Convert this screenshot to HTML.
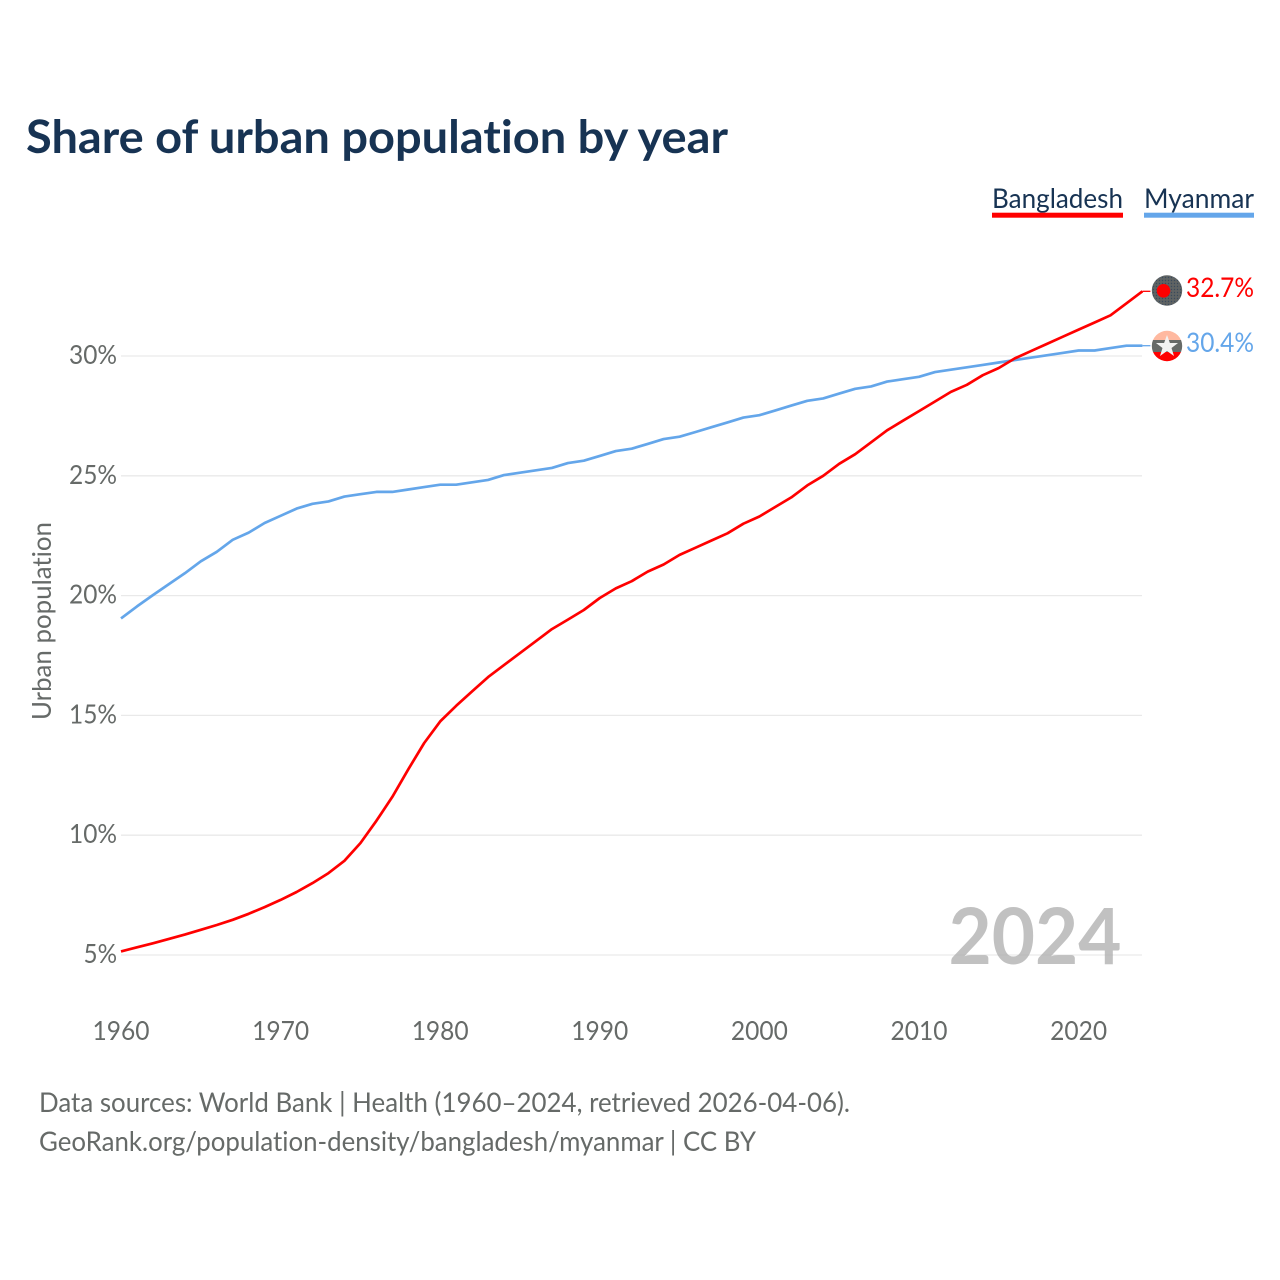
<!DOCTYPE html>
<html lang="en">
<head>
<meta charset="utf-8">
<title>Share of urban population by year</title>
<style>
html,body{margin:0;padding:0;background:#fff;width:1280px;height:1280px;overflow:hidden}
svg{display:block}
text{font-family:"Lato","Carlito","Liberation Sans",sans-serif;font-variant-ligatures:none}
</style>
</head>
<body>
<svg id="chart" width="1280" height="1280" viewBox="0 0 1280 1280" xmlns="http://www.w3.org/2000/svg">
  <defs>
    <clipPath id="flag-clip-bd"><circle cx="1167" cy="290.5" r="15.2"/></clipPath>
    <clipPath id="flag-clip-mm"><circle cx="1167" cy="346" r="15.2"/></clipPath>
    <pattern id="dots" width="3" height="3" patternUnits="userSpaceOnUse"><rect width="3" height="3" fill="#5f6363"/><circle cx="1.5" cy="1.5" r="0.7" fill="#3a4a5c"/></pattern>
  </defs>
  <rect width="1280" height="1280" fill="#fff"/>
  <text x="26" y="153" font-size="46" font-weight="700" fill="#173353" textLength="702" lengthAdjust="spacingAndGlyphs">Share of urban population by year</text>

  <g>
    <g>
      <text x="992" y="208" font-size="27" fill="#173353" textLength="131" lengthAdjust="spacingAndGlyphs">Bangladesh</text>
      <rect x="992" y="212.7" width="131" height="5" fill="#ff0000"/>
    </g>
    <g>
      <text x="1144" y="208" font-size="27" fill="#173353" textLength="110" lengthAdjust="spacingAndGlyphs">Myanmar</text>
      <rect x="1144" y="212.7" width="110" height="5" fill="#64a6ea"/>
    </g>
  </g>

  <g id="grid"></g>
  <g id="yticks"></g>
  <g id="xticks"></g>
  <text transform="translate(51,621) rotate(-90)" text-anchor="middle" font-size="26" fill="#666a68" textLength="198" lengthAdjust="spacingAndGlyphs">Urban population</text>
  <text x="1121.5" y="964" text-anchor="end" font-size="78" font-weight="700" fill="#a6a6a6" fill-opacity="0.7" textLength="173" lengthAdjust="spacingAndGlyphs">2024</text>
  <g id="series"></g>

  <g clip-path="url(#flag-clip-bd)">
    <rect x="1150" y="273" width="34" height="35" fill="url(#dots)"/>
    <circle cx="1163.5" cy="290.8" r="6.8" fill="#ff0000"/>
  </g>
  <g clip-path="url(#flag-clip-mm)">
    <rect x="1150" y="329" width="34" height="11" fill="#ffb9a0"/>
    <rect x="1150" y="340" width="34" height="12" fill="#666a68"/>
    <rect x="1150" y="352" width="34" height="11" fill="#ff0000"/>
    <polygon points="1167,335 1169.9,343 1178,343 1171.5,348 1174,356 1167,351 1160,356 1162.5,348 1156,343 1164.1,343" fill="#f2f2f2"/>
  </g>
  <text x="1186" y="297" font-size="27" fill="#ff0000" textLength="68" lengthAdjust="spacingAndGlyphs">32.7%</text>
  <text x="1186" y="352" font-size="27" fill="#64a6ea" textLength="68" lengthAdjust="spacingAndGlyphs">30.4%</text>

  <text x="39" y="1112" font-size="27" fill="#666a68" textLength="811" lengthAdjust="spacingAndGlyphs">Data sources: World Bank | Health (1960–2024, retrieved 2026-04-06).</text>
  <text x="39" y="1151" font-size="27" fill="#666a68" textLength="717" lengthAdjust="spacingAndGlyphs">GeoRank.org/population-density/bangladesh/myanmar | CC BY</text>
</svg>
<script>
const startYear = 1960;
const yTickValues = [5, 10, 15, 20, 25, 30];
const xTickValues = [1960, 1970, 1980, 1990, 2000, 2010, 2020];
const bangladesh = [5.15,5.32,5.49,5.67,5.85,6.05,6.25,6.47,6.72,7.0,7.3,7.63,8.0,8.42,8.93,9.67,10.6,11.6,12.75,13.85,14.75,15.4,16.0,16.6,17.1,17.6,18.1,18.6,19.0,19.4,19.9,20.3,20.6,21.0,21.3,21.7,22.0,22.3,22.6,23.0,23.3,23.7,24.1,24.6,25.0,25.5,25.9,26.4,26.9,27.3,27.7,28.1,28.5,28.8,29.2,29.5,29.9,30.2,30.5,30.8,31.1,31.4,31.7,32.2,32.7];
const myanmar = [19.05,19.55,20.02,20.48,20.93,21.43,21.83,22.33,22.63,23.03,23.33,23.63,23.83,23.93,24.13,24.23,24.33,24.33,24.43,24.53,24.63,24.63,24.73,24.83,25.03,25.13,25.23,25.33,25.53,25.63,25.83,26.03,26.13,26.33,26.53,26.63,26.83,27.03,27.23,27.43,27.53,27.73,27.93,28.13,28.23,28.43,28.63,28.73,28.93,29.03,29.13,29.33,29.43,29.53,29.63,29.73,29.83,29.93,30.03,30.13,30.23,30.23,30.33,30.43,30.43];

const NS = 'http://www.w3.org/2000/svg';
const xScale = function (year) { return 121 + (year - 1960) * 15.96; };
const yScale = function (v) { return 955 - (v - 5) * 23.96; };
const gridG = document.getElementById('grid');
const yG = document.getElementById('yticks');
const xG = document.getElementById('xticks');
const seriesG = document.getElementById('series');

yTickValues.forEach(function (v) {
  const line = document.createElementNS(NS, 'line');
  
  
  line.setAttribute('x1', 121);
  line.setAttribute('x2', 1142);
  line.setAttribute('y1', yScale(v));
  line.setAttribute('y2', yScale(v));
  line.setAttribute('stroke', '#e9e9e9');
  line.setAttribute('stroke-width', 1.3);
  gridG.appendChild(line);

  const t = document.createElementNS(NS, 'text');
  
  
  t.setAttribute('x', 117);
  t.setAttribute('y', yScale(v) + 8);
  t.setAttribute('text-anchor', 'end');
  t.setAttribute('font-size', 26);
  t.setAttribute('fill', '#666a68');
  t.setAttribute('textLength', v < 10 ? 33.5 : 48);
  t.setAttribute('lengthAdjust', 'spacingAndGlyphs');
  t.textContent = v + '%';
  yG.appendChild(t);
});

xTickValues.forEach(function (y) {
  const t = document.createElementNS(NS, 'text');
  
  
  t.setAttribute('x', xScale(y));
  t.setAttribute('y', 1040);
  t.setAttribute('text-anchor', 'middle');
  t.setAttribute('font-size', 26);
  t.setAttribute('fill', '#666a68');
  t.setAttribute('textLength', 57);
  t.setAttribute('lengthAdjust', 'spacingAndGlyphs');
  t.textContent = y;
  xG.appendChild(t);
});

function drawSeries(values, color, name) {
  const pts = values.map(function (v, i) {
    return xScale(startYear + i).toFixed(1) + ',' + yScale(v).toFixed(1);
  });
  const line = document.createElementNS(NS, 'polyline');
  
  
  line.setAttribute('points', pts.join(' '));
  line.setAttribute('fill', 'none');
  line.setAttribute('stroke', color);
  line.setAttribute('stroke-width', 2.7);
  line.setAttribute('stroke-linejoin', 'round');
  seriesG.appendChild(line);

  const endX = xScale(startYear + values.length - 1);
  const endY = yScale(values[values.length - 1]);
  const connector = document.createElementNS(NS, 'line');
  
  
  connector.setAttribute('x1', endX);
  connector.setAttribute('x2', endX + 8);
  connector.setAttribute('y1', endY);
  connector.setAttribute('y2', endY);
  connector.setAttribute('stroke', color);
  connector.setAttribute('stroke-width', 1.3);
  seriesG.appendChild(connector);
}
drawSeries(myanmar, '#64a6ea', 'line-myanmar');
drawSeries(bangladesh, '#ff0000', 'line-bangladesh');
</script>
</body>
</html>
